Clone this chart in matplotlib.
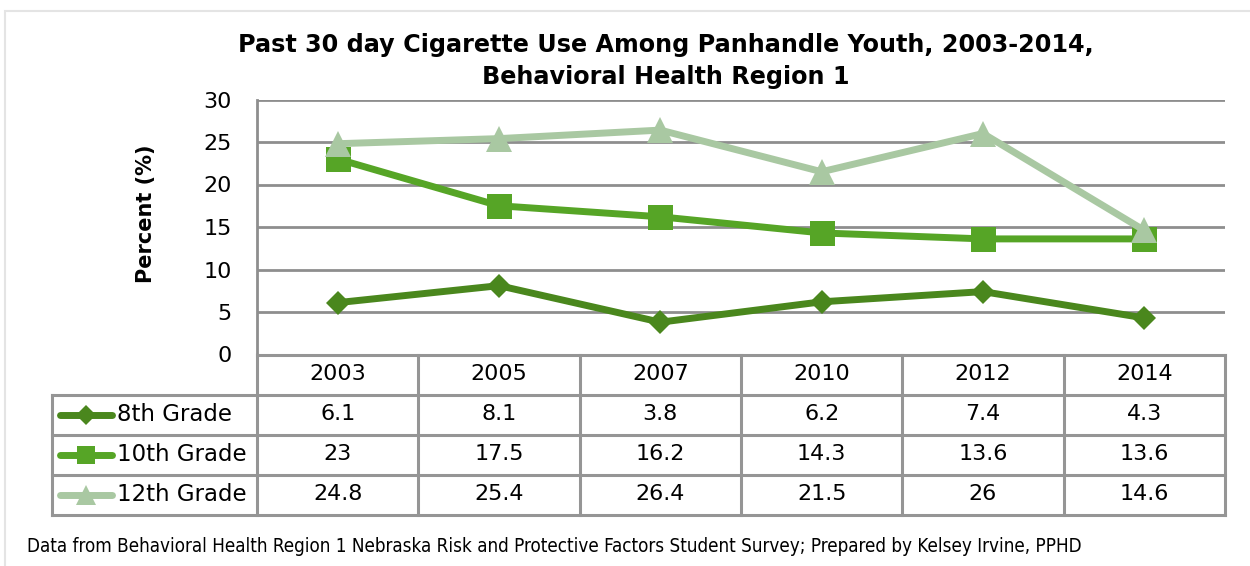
import matplotlib
matplotlib.use("Agg")
import matplotlib.pyplot as plt
from matplotlib import font_manager
from matplotlib.patches import Rectangle
from matplotlib.lines import Line2D

# Survey data
years = ["2003", "2005", "2007", "2010", "2012", "2014"]
grade8 = [6.1, 8.1, 3.8, 6.2, 7.4, 4.3]
grade10 = [23, 17.5, 16.2, 14.3, 13.6, 13.6]
grade12 = [24.8, 25.4, 26.4, 21.5, 26, 14.6]
series_names = ["8th Grade", "10th Grade", "12th Grade"]
series_values = [grade8, grade10, grade12]
y_ticks = [0, 5, 10, 15, 20, 25, 30]

title_lines = ["Past 30 day Cigarette Use Among Panhandle Youth, 2003-2014,",
               "Behavioral Health Region 1"]
source = ("Data from Behavioral Health Region 1 Nebraska Risk and Protective Factors "
          "Student Survey; Prepared by Kelsey Irvine, PPHD")

colors = ["#4a871d", "#56a526", "#a9c8a2"]
markers = ["D", "s", "^"]
marker_sizes = [12.5, 18, 18.5]
key_marker_sizes = [9.7, 13, 14]
grid_col = "#8e8e8e"
table_col = "#959595"

plt.rcParams["font.family"] = ["DejaVu Sans"]

# a narrow face for the footnote, if one is installed
narrow = None
for f in font_manager.fontManager.ttflist:
    if "Condensed" in f.fname and "DejaVuSans" in f.fname and "Bold" not in f.fname \
            and "Oblique" not in f.fname:
        narrow = f.fname
        break
if narrow is None:
    for f in font_manager.fontManager.ttflist:
        if "Narrow" in f.fname and "Bold" not in f.fname and "Italic" not in f.fname:
            narrow = f.fname
            break

W, H = 1250, 566
fig = plt.figure(figsize=(W / 100, H / 100), dpi=100)


def px(x0, y0, x1, y1):
    return [x0 / W, 1 - y1 / H, (x1 - x0) / W, (y1 - y0) / H]


# outer frame of the chart object
fig.patches.append(Rectangle((5 / W, -0.1), 1.2, (1 - 11 / H) + 0.1,
                             transform=fig.transFigure, fill=False,
                             edgecolor="#e4e4e4", linewidth=1.5))

plot_l, plot_r, plot_t, plot_b = 257, 1225, 99.5, 354.5
ax = fig.add_axes(px(plot_l, plot_t, plot_r, plot_b))
n = len(years)
xs = [i + 0.5 for i in range(n)]
ax.set_xlim(0, n)
ax.set_ylim(0, 30)
ax.set_yticks(y_ticks)
ax.set_yticklabels([str(t) for t in y_ticks], fontsize=16)
ax.tick_params(axis="y", length=0, pad=18)
ax.set_xticks([])
for s in ax.spines.values():
    s.set_visible(False)
ax.spines["left"].set_visible(True)
ax.spines["left"].set_color(grid_col)
ax.spines["left"].set_linewidth(2)
ax.yaxis.grid(True, color=grid_col, linewidth=2)
ax.set_axisbelow(True)
ax.set_ylabel("Percent (%)", fontsize=15, fontweight="bold")
ax.yaxis.set_label_coords((146 - plot_l) / (plot_r - plot_l),
                          (plot_b - 213.5) / (plot_b - plot_t))
ax.yaxis.label.set_va("center")

for vals, c, m, ms in zip(series_values, colors, markers, marker_sizes):
    ax.plot(xs, vals, color=c, linewidth=5, marker=m, markersize=ms,
            markeredgewidth=0, solid_joinstyle="round", clip_on=False, zorder=3)

for line, yc in zip(title_lines, [45, 77]):
    fig.text(666 / W, 1 - yc / H, line, ha="center", va="center", fontsize=17.2,
             fontweight="bold")

# data table below the plot
tab_l, tab_t, tab_b = 52, plot_b, 514.5
col_w = (plot_r - plot_l) / n
tx = fig.add_axes(px(tab_l, tab_t, plot_r, tab_b))
x_left = -(plot_l - tab_l) / col_w
tx.set_xlim(x_left, n)
tx.set_ylim(4, 0)
tx.axis("off")
lw_t = 2.2
# horizontal rules
tx.plot([0, n], [0, 0], color=table_col, lw=lw_t, clip_on=False)
for r in range(1, 5):
    tx.plot([x_left, n], [r, r], color=table_col, lw=lw_t, clip_on=False)
# vertical rules
tx.plot([x_left, x_left], [1, 4], color=table_col, lw=lw_t, clip_on=False)
for c in range(0, n + 1):
    tx.plot([c, c], [0, 4], color=table_col, lw=lw_t, clip_on=False)

for i, yr in enumerate(years):
    tx.text(i + 0.5, 0.5, yr, ha="center", va="center", fontsize=16)
for r, (name, vals) in enumerate(zip(series_names, series_values), start=1):
    for i, v in enumerate(vals):
        tx.text(i + 0.5, r + 0.5, f"{v:g}", ha="center", va="center", fontsize=16)
    tx.text(x_left + (117 - tab_l) / col_w, r + 0.5, name, ha="left", va="center",
            fontsize=16.5)

# legend keys inside the table
for r, (c, m, ms) in enumerate(zip(colors, markers, key_marker_sizes), start=1):
    k0 = x_left + (60 - tab_l) / col_w
    k1 = x_left + (112 - tab_l) / col_w
    km = x_left + (86 - tab_l) / col_w
    tx.add_line(Line2D([k0, k1], [r + 0.5, r + 0.5], color=c, lw=5,
                       solid_capstyle="round", clip_on=False))
    tx.plot([km], [r + 0.5], marker=m, markersize=ms, color=c,
            markeredgewidth=0, clip_on=False)

if narrow:
    fig.text(27 / W, 1 - 547 / H, source, ha="left", va="center",
             fontproperties=font_manager.FontProperties(fname=narrow, size=13.5))
else:
    fig.text(27 / W, 1 - 547 / H, source, ha="left", va="center", fontsize=12)

fig.savefig("out.png", dpi=100)
